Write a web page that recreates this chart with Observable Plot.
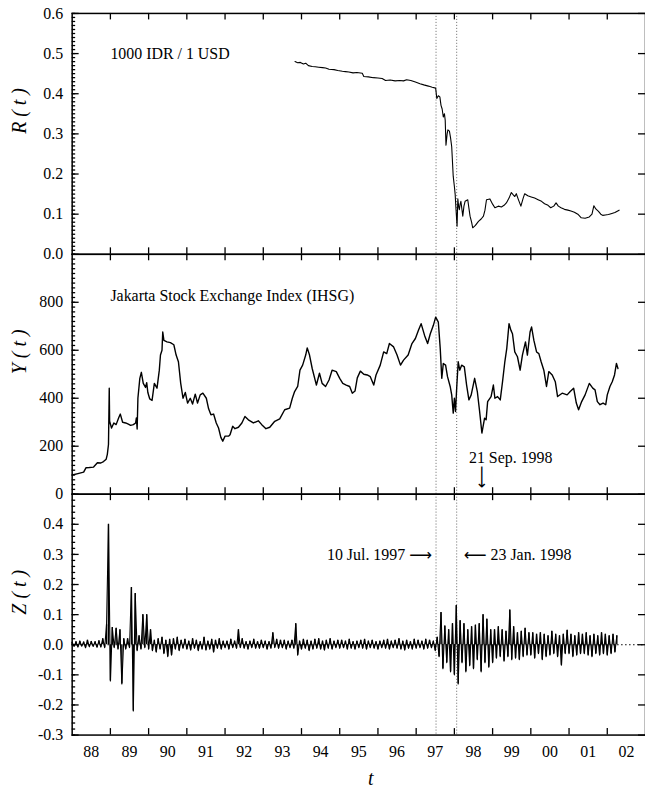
<!DOCTYPE html>
<html><head><meta charset="utf-8">
<script src="https://cdn.jsdelivr.net/npm/d3@7"></script>
<script src="https://cdn.jsdelivr.net/npm/@observablehq/plot@0.6"></script>
<style>
html,body{margin:0;padding:0;background:#fff;overflow:hidden;}
#chart{position:relative;width:645px;height:790px;overflow:hidden;background:#fff;}
#chart svg{position:absolute;left:0;top:0;overflow:visible;}
</style></head><body><div id="chart"></div>
<script>
// ---------- DATA ----------
// R(t): 1000 IDR / 1 USD
const rT = [1993.83,1993.90,1993.97,1994.05,1994.11,1994.18,1994.28,1994.36,1994.45,1994.55,1994.63,1994.72,1994.85,1994.95,1995.07,1995.15,1995.24,1995.35,1995.45,1995.59,1995.63,1995.75,1995.88,1996.00,1996.11,1996.20,1996.32,1996.45,1996.57,1996.67,1996.75,1996.86,1996.98,1997.10,1997.20,1997.32,1997.42,1997.51,1997.54,1997.58,1997.62,1997.65,1997.68,1997.71,1997.74,1997.76,1997.78,1997.81,1997.83,1997.87,1997.90,1997.93,1997.97,1998.00,1998.02,1998.04,1998.07,1998.09,1998.11,1998.13,1998.15,1998.17,1998.20,1998.22,1998.25,1998.28,1998.35,1998.38,1998.41,1998.45,1998.48,1998.55,1998.63,1998.70,1998.76,1998.80,1998.84,1998.93,1999.00,1999.06,1999.15,1999.23,1999.30,1999.36,1999.43,1999.49,1999.54,1999.58,1999.62,1999.68,1999.74,1999.80,1999.84,1999.92,2000.01,2000.10,2000.19,2000.28,2000.36,2000.45,2000.52,2000.60,2000.66,2000.72,2000.79,2000.88,2000.97,2001.05,2001.14,2001.23,2001.32,2001.42,2001.53,2001.60,2001.65,2001.70,2001.77,2001.83,2001.88,2001.95,2002.03,2002.10,2002.20,2002.31];
const rV = [0.480,0.477,0.478,0.474,0.476,0.470,0.468,0.467,0.466,0.465,0.464,0.461,0.460,0.458,0.456,0.455,0.454,0.452,0.453,0.451,0.443,0.442,0.440,0.439,0.438,0.433,0.434,0.432,0.433,0.432,0.435,0.433,0.429,0.425,0.422,0.419,0.416,0.414,0.388,0.395,0.392,0.371,0.362,0.342,0.350,0.334,0.272,0.300,0.310,0.307,0.290,0.268,0.194,0.169,0.150,0.116,0.070,0.138,0.120,0.111,0.125,0.132,0.110,0.095,0.120,0.132,0.136,0.115,0.095,0.080,0.066,0.072,0.082,0.088,0.095,0.110,0.136,0.138,0.125,0.116,0.120,0.118,0.122,0.128,0.140,0.154,0.148,0.144,0.151,0.135,0.120,0.140,0.151,0.146,0.143,0.140,0.136,0.132,0.126,0.122,0.116,0.120,0.128,0.120,0.116,0.112,0.110,0.108,0.105,0.100,0.091,0.090,0.093,0.100,0.121,0.113,0.107,0.100,0.097,0.098,0.099,0.101,0.104,0.110];

// Y(t): Jakarta Stock Exchange Index
const yT = [1988.00,1988.15,1988.30,1988.36,1988.45,1988.56,1988.66,1988.75,1988.82,1988.89,1988.92,1988.95,1988.97,1988.98,1989.03,1989.09,1989.15,1989.22,1989.26,1989.32,1989.40,1989.47,1989.53,1989.60,1989.66,1989.68,1989.70,1989.72,1989.77,1989.81,1989.86,1989.92,1989.95,1989.98,1990.03,1990.09,1990.15,1990.22,1990.28,1990.31,1990.35,1990.37,1990.40,1990.48,1990.57,1990.66,1990.72,1990.78,1990.84,1990.90,1990.96,1991.02,1991.09,1991.15,1991.22,1991.28,1991.35,1991.42,1991.51,1991.57,1991.63,1991.70,1991.77,1991.83,1991.89,1991.94,1992.00,1992.09,1992.13,1992.20,1992.26,1992.35,1992.44,1992.52,1992.61,1992.74,1992.87,1992.96,1993.07,1993.17,1993.30,1993.43,1993.56,1993.69,1993.76,1993.82,1993.90,1993.96,1994.03,1994.11,1994.15,1994.21,1994.28,1994.39,1994.47,1994.54,1994.63,1994.72,1994.80,1994.91,1995.00,1995.08,1995.17,1995.26,1995.33,1995.40,1995.46,1995.54,1995.63,1995.72,1995.80,1995.89,1995.95,1996.06,1996.15,1996.23,1996.30,1996.41,1996.50,1996.59,1996.67,1996.79,1996.89,1996.98,1997.06,1997.13,1997.22,1997.30,1997.37,1997.45,1997.51,1997.58,1997.63,1997.67,1997.71,1997.77,1997.82,1997.89,1997.93,1997.97,1998.00,1998.03,1998.06,1998.10,1998.14,1998.19,1998.26,1998.32,1998.38,1998.44,1998.53,1998.60,1998.66,1998.72,1998.79,1998.83,1998.87,1998.96,1999.02,1999.06,1999.13,1999.20,1999.26,1999.32,1999.37,1999.43,1999.48,1999.52,1999.58,1999.65,1999.72,1999.78,1999.86,1999.91,1999.98,2000.02,2000.08,2000.15,2000.21,2000.27,2000.34,2000.41,2000.47,2000.56,2000.64,2000.70,2000.82,2000.95,2001.03,2001.12,2001.19,2001.25,2001.33,2001.42,2001.53,2001.62,2001.68,2001.74,2001.81,2001.89,2001.96,2002.00,2002.07,2002.13,2002.19,2002.24,2002.28];
const yV = [80,86,92,110,111,113,131,130,136,146,166,207,442,304,276,297,290,320,334,300,297,292,287,290,297,318,272,400,483,508,462,445,465,424,397,391,462,442,517,580,600,676,641,635,632,623,580,552,462,400,424,380,400,376,417,380,414,421,400,356,331,334,297,276,237,221,242,242,248,283,273,279,297,324,310,297,306,290,273,279,304,314,352,359,400,428,449,517,538,580,610,580,524,455,504,462,449,476,517,511,483,462,455,449,421,430,485,513,500,497,490,455,497,538,593,586,628,614,580,538,559,580,628,649,683,711,662,628,669,704,738,717,607,483,545,538,490,449,414,338,400,345,442,552,517,538,531,455,393,414,483,428,345,255,317,310,386,407,455,400,407,393,469,552,607,711,683,669,593,573,517,580,635,580,676,697,641,593,586,552,517,449,511,497,469,407,421,414,428,442,380,352,386,414,462,442,435,386,373,380,373,414,449,469,497,545,524];

// Z(t): returns, sampled every 0.05 year starting 1988.0
const zStart = 1988.0, zStep = 0.05;
const z1988 = [0.008,-0.006,0.010,-0.008,0.012,-0.005,0.009,-0.010,0.015,-0.007,0.011,-0.006,0.010,-0.009,0.013,-0.008,0.020,-0.010,0.066,0.400];
const z1989 = [-0.120,0.057,-0.010,0.055,-0.015,0.050,-0.130,0.020,-0.015,0.020,-0.010,0.190,-0.220,0.170,-0.020,0.030,-0.015,0.100,-0.010,0.100];
const z1990 = [-0.015,0.050,-0.020,0.015,-0.025,0.020,-0.015,0.025,-0.030,0.015,-0.040,0.018,-0.035,0.020,-0.015,0.025,-0.020,0.015,-0.012,0.018];
const z1991 = [-0.015,0.012,-0.018,0.020,-0.012,0.015,-0.020,0.010,-0.015,0.025,-0.018,0.012,-0.015,0.018,-0.025,0.015,-0.012,0.020,-0.015,0.012];
const z1992 = [-0.010,0.012,-0.015,0.018,-0.010,0.012,-0.012,0.050,-0.010,0.020,-0.012,0.010,-0.015,0.012,-0.010,0.018,-0.012,0.010,-0.012,0.015];
const z1993 = [-0.010,0.012,-0.015,0.010,-0.012,0.040,-0.010,0.018,-0.012,0.015,-0.010,0.015,-0.015,0.012,-0.010,0.015,-0.012,0.070,-0.035,0.012];
const z1994 = [-0.015,0.018,-0.012,0.015,-0.020,0.012,-0.015,0.018,-0.012,0.020,-0.015,0.012,-0.018,0.015,-0.012,0.020,-0.015,0.012,-0.010,0.015];
const z1995 = [-0.012,0.015,-0.010,0.012,-0.015,0.018,-0.012,0.010,-0.015,0.012,-0.010,0.015,-0.012,0.018,-0.015,0.012,-0.010,0.015,-0.012,0.010];
const z1996 = [-0.015,0.012,-0.010,0.015,-0.012,0.018,-0.015,0.012,-0.010,0.015,-0.012,0.020,-0.015,0.012,-0.018,0.015,-0.012,0.010,-0.015,0.018];
const z1997 = [-0.012,0.015,-0.010,0.012,-0.015,0.018,-0.012,0.015,-0.010,0.012,-0.020,0.025,-0.040,0.107,-0.080,0.062,-0.060,0.050,-0.090,0.070];
const z1998 = [-0.100,0.130,-0.130,0.080,-0.060,0.070,-0.090,0.050,-0.070,0.060,-0.080,0.065,-0.050,0.070,-0.090,0.100,-0.060,0.085,-0.075,0.050];
const z1999 = [-0.060,0.050,-0.045,0.060,-0.040,0.050,-0.055,0.045,-0.040,0.115,-0.050,0.060,-0.045,0.040,-0.050,0.045,-0.040,0.055,-0.035,0.040];
const z2000 = [-0.035,0.040,-0.045,0.035,-0.030,0.040,-0.050,0.035,-0.040,0.030,-0.035,0.045,-0.030,0.035,-0.040,0.030,-0.068,0.035,-0.030,0.048];
const z2001 = [-0.030,0.035,-0.040,0.030,-0.035,0.040,-0.030,0.035,-0.030,0.040,-0.035,0.030,-0.040,0.035,-0.030,0.030,-0.035,0.040,-0.030,0.035];
const z2002 = [-0.035,0.030,-0.030,0.035,-0.025,0.030];

// events & annotations
const eventT = [1997.52, 1998.06];          // 10 Jul 1997, 23 Jan 1998
const eventLabels = ["10 Jul. 1997", "23 Jan. 1998"];
const eventLabelV = [0.30, 0.30];
const sepT = [1998.72];                     // 21 Sep 1998
const sepLabel = ["21 Sep. 1998"];
const sepLabelV = [153];
const sepArrowV = [72];
const rNote = ["1000 IDR / 1 USD"], rNoteT = [1989.0], rNoteV = [0.50];
const yNote = ["Jakarta Stock Exchange Index (IHSG)"], yNoteT = [1989.0], yNoteV = [825];

// axes
const xLabels = ["88","89","90","91","92","93","94","95","96","97","98","99","00","01","02"];
const yearTicks = [1989,1990,1991,1992,1993,1994,1995,1996,1997,1998,1999,2000,2001,2002];
const rTicks = [0,0.1,0.2,0.3,0.4,0.5,0.6];
const yTicks = [0,200,400,600,800];
const zTicks = [-0.3,-0.2,-0.1,0,0.1,0.2,0.3,0.4];
const titles = ["R ( t )", "Y ( t )", "Z ( t )"];
const xTitle = ["t"];

// ---------- BUILD ----------
const zV = [].concat(z1988,z1989,z1990,z1991,z1992,z1993,z1994,z1995,z1996,z1997,z1998,z1999,z2000,z2001,z2002);
const rData = rT.map((t, i) => ({t, v: rV[i]}));
const yData = yT.map((t, i) => ({t, v: yV[i]}));
const zData = zV.map((v, i) => ({t: zStart + i * zStep, v}));
const labelPos = xLabels.map((_, i) => 1988.5 + i);

const W = 648, H = 790, ML = 72, FW = W - ML;
const serif = "'Liberation Serif','Times New Roman',Times,serif";
const arrowFont = "'DejaVu Sans',sans-serif";
const xDomain = [1988, 2003];
const f1 = d => (+d).toFixed(1);

function panel(p) {
  const PH = p.bottom - p.top;
  const [ya, yb] = p.yDomain, [xa, xb] = xDomain;
  const perPxY = (yb - ya) / PH, perPxX = (xb - xa) / FW;
  const tk = {stroke: "#000", strokeWidth: 1.3};
  return Plot.plot({
    width: W, height: H,
    marginLeft: ML, marginRight: 0, marginTop: p.top, marginBottom: H - p.bottom,
    x: {domain: xDomain, axis: null},
    y: {domain: p.yDomain, axis: null},
    style: {fontFamily: serif, fontSize: "16px", background: "transparent", overflow: "visible", color: "#000"},
    marks: [
      ...(p.under || []),
      Plot.ruleX(eventT, {stroke: "#666", strokeDasharray: "1,2"}),
      // inward ticks
      Plot.ruleX(yearTicks, {x: d => d, y1: ya, y2: ya + 6.5 * perPxY, ...tk}),
      Plot.ruleX(yearTicks, {x: d => d, y1: yb - 6.5 * perPxY, y2: yb, ...tk}),
      Plot.ruleY(p.minor, {y: d => d, x1: xa, x2: xa + 3.5 * perPxX, ...tk}),
      Plot.ruleY(p.major, {y: d => d, x1: xa, x2: xa + 7 * perPxX, ...tk}),
      Plot.ruleY(p.major, {y: d => d, x1: xb - 7 * perPxX, x2: xb, ...tk}),
      Plot.axisY(p.major, {anchor: "left", tickSize: 0, tickPadding: 9, tickFormat: p.fmt, label: null, fontSize: 16, fontFamily: serif}),
      ...p.marks,
      Plot.text([p.title], {frameAnchor: "left", dx: -53, rotate: -90, fontSize: 20, fontStyle: "italic", fontFamily: serif}),
      Plot.frame({strokeWidth: 1.5})
    ]
  });
}

const panelR = panel({
  top: 13, bottom: 255, yDomain: [0, 0.6], major: rTicks, minor: d3.range(0, 0.6001, 0.01), fmt: f1, title: titles[0],
  marks: [
    Plot.line(rData, {x: "t", y: "v", stroke: "#000", strokeWidth: 1.1}),
    Plot.text(rNote, {x: rNoteT, y: rNoteV, textAnchor: "start", fontSize: 16})
  ]
});
const panelY = panel({
  top: 255, bottom: 496, yDomain: [0, 1000], major: yTicks, minor: d3.range(0, 1001, 20), fmt: d => String(d), title: titles[1],
  marks: [
    Plot.line(yData, {x: "t", y: "v", stroke: "#000", strokeWidth: 1.4}),
    Plot.text(yNote, {x: yNoteT, y: yNoteV, textAnchor: "start", fontSize: 16}),
    Plot.text(sepLabel, {x: sepT, y: sepLabelV, textAnchor: "start", dx: -13, fontSize: 16}),
    Plot.text(["\u27F6"], {x: sepT, y: sepArrowV, textAnchor: "middle", rotate: 90, fontSize: 16, fontFamily: arrowFont})
  ]
});
const panelZ = panel({
  top: 496, bottom: 738, yDomain: [-0.3, 0.5], major: zTicks, minor: d3.range(-0.3, 0.5001, 0.02), fmt: f1, title: titles[2],
  under: [Plot.ruleY([0], {stroke: "#000", strokeDasharray: "1.5,2.5"})],
  marks: [
    Plot.ruleX(zData, {x: "t", y1: 0, y2: "v", stroke: "#000", strokeWidth: 1.4}),
    Plot.line(zData, {x: "t", y: "v", stroke: "#000", strokeWidth: 1.1}),
    Plot.text([eventLabels[0]], {x: [eventT[0]], y: [eventLabelV[0]], textAnchor: "end", dx: -31, fontSize: 16}),
    Plot.text(["\u27F6"], {x: [eventT[0]], y: [eventLabelV[0]], textAnchor: "end", dx: -4, fontSize: 16, fontFamily: arrowFont}),
    Plot.text(["\u27F5"], {x: [eventT[1]], y: [eventLabelV[1]], textAnchor: "start", dx: 7, fontSize: 16, fontFamily: arrowFont}),
    Plot.text([eventLabels[1]], {x: [eventT[1]], y: [eventLabelV[1]], textAnchor: "start", dx: 34, fontSize: 16}),
    Plot.axisX(labelPos, {anchor: "bottom", tickSize: 0, tickPadding: 11, tickFormat: d => xLabels[Math.round(d - 1988.5)], label: null, fontSize: 16, fontFamily: serif}),
    Plot.text(xTitle, {frameAnchor: "bottom", dx: 12, dy: 50, fontStyle: "italic", fontSize: 20})
  ]
});
document.getElementById("chart").append(panelR, panelY, panelZ);
</script>
</body></html>
